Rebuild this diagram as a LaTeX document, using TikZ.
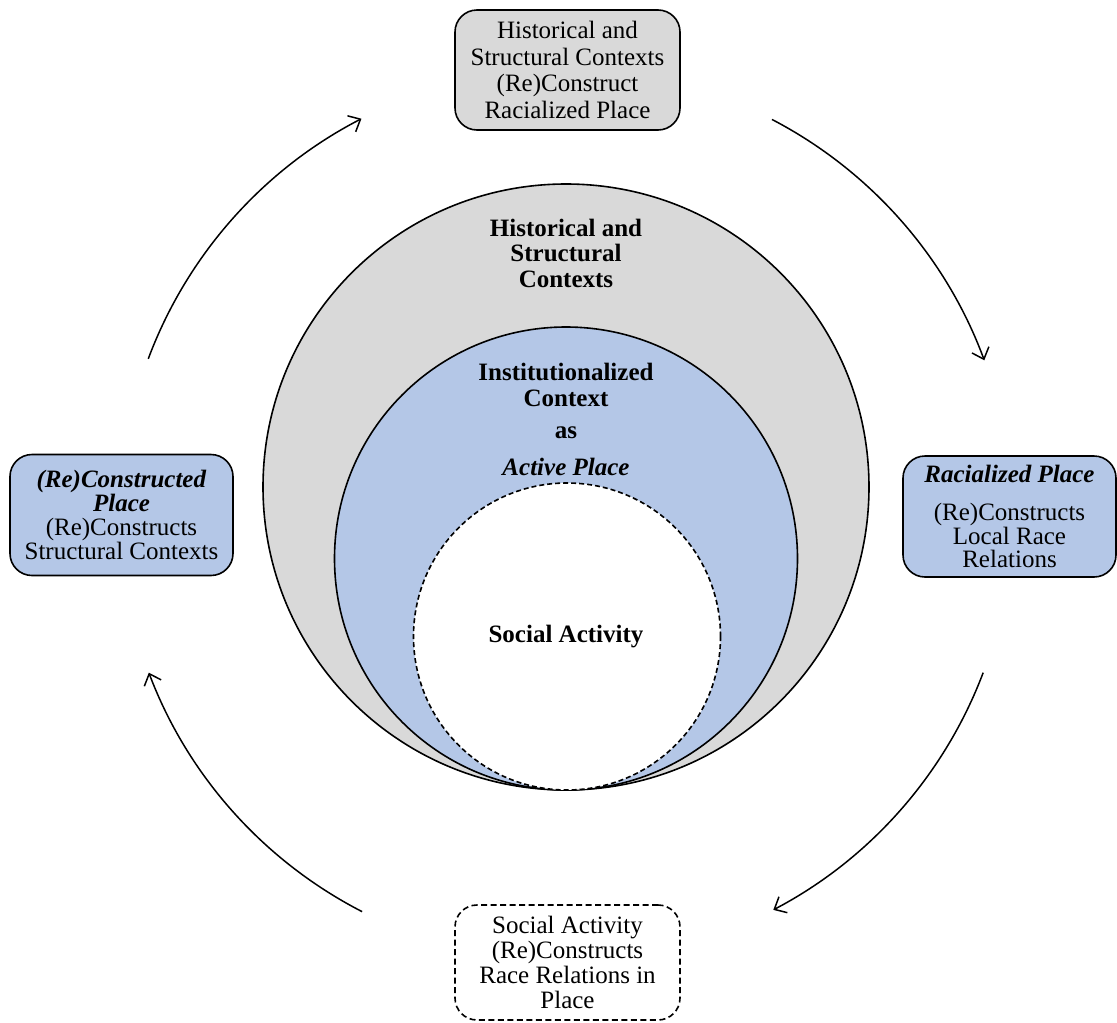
\documentclass[tikz,border=0pt]{standalone}
\usepackage{fontspec}
\setmainfont{Liberation Serif}
\usetikzlibrary{arrows.meta,calc}
\definecolor{gfill}{HTML}{D9D9D9}
\definecolor{bfill}{HTML}{B4C7E7}
\begin{document}
\begin{tikzpicture}[x=1pt,y=-1pt,
  txt/.style={align=center, inner sep=0pt, font=\fontsize{25}{25.5}\selectfont},
  btxt/.style={txt, font=\fontsize{25}{25.5}\selectfont\bfseries},
  box/.style={draw, line width=1.6pt, rounded corners=22pt, align=center, inner sep=0pt},
  ring/.style={circle, draw, line width=1.6pt, inner sep=0pt},
  arr/.style={line width=1.5pt, -{Straight Barb[length=10pt,width=18pt]}}]
\useasboundingbox (0,0) rectangle (1117,1023);
% circles
\node[ring, fill=gfill, minimum size=606pt] (outer) at (566,487) {};
\node[ring, fill=bfill, minimum size=463pt] (inst) at (566,558.5) {};
\node[ring, fill=white, dash pattern=on 5pt off 3pt, minimum size=307pt] (soc) at (567,636.5) {};
% circle texts
\node[btxt] (thist) at (566,253) {Historical and\\Structural\\Contexts};
\node[btxt] (tinst) at (566,385) {Institutionalized\\Context};
\node[btxt] (tas) at (566,433) {as};
\node[btxt, font=\fontsize{25}{25.5}\selectfont\bfseries\itshape] (tact) at (566,467) {Active Place};
\node[btxt] (tsoc) at (566,637) {Social Activity};
% boxes
\node[box, fill=gfill, minimum width=225pt, minimum height=120pt, font=\fontsize{25}{26.5}\selectfont] (top) at (567.5,70)
  {Historical and\\Structural Contexts\\(Re)Construct\\Racialized Place};
\node[box, fill=bfill, minimum width=213pt, minimum height=121pt, font=\fontsize{25}{23.5}\selectfont] (right) at (1009.5,516.5)
  {\textbf{\textit{Racialized Place}}\\[15pt](Re)Constructs\\Local Race\\Relations};
\node[box, fill=bfill, minimum width=223pt, minimum height=121pt, font=\fontsize{25}{24}\selectfont] (left) at (121.5,515)
  {\textbf{\textit{(Re)Constructed}}\\\textbf{\textit{Place}}\\(Re)Constructs\\Structural Contexts};
\node[box, fill=white, dash pattern=on 6pt off 3.5pt, minimum width=225pt, minimum height=115pt, font=\fontsize{25}{25}\selectfont] (bottom) at (567.5,962.5)
  {Social Activity\\(Re)Constructs\\Race Relations in\\Place};
% cycle arrows
\coordinate (c) at (566,515);
\coordinate (a1) at ($(c)+(-159.5:446)$);
\coordinate (a2) at ($(c)+(-62.5:446)$);
\coordinate (a3) at ($(c)+(20.7:446)$);
\coordinate (a4) at ($(c)+(117.2:446)$);
\draw[arr] (a1) arc[start angle=-159.5, end angle=-117.3, radius=446];
\draw[arr] (a2) arc[start angle=-62.5, end angle=-20.3, radius=446];
\draw[arr] (a3) arc[start angle=20.7, end angle=62.3, radius=446];
\draw[arr] (a4) arc[start angle=117.2, end angle=159.3, radius=446];
\end{tikzpicture}
\end{document}
